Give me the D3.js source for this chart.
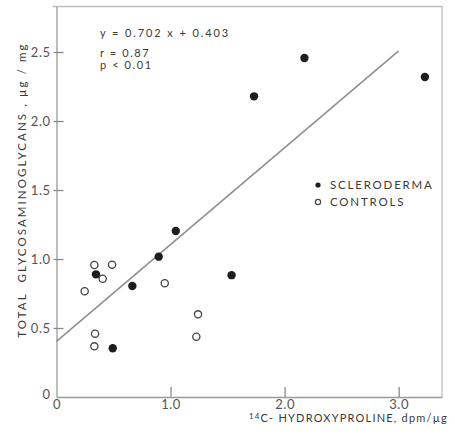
<!DOCTYPE html>
<html><head><meta charset="utf-8">
<script src="https://cdn.jsdelivr.net/npm/d3@7"></script>
<style>
html,body{margin:0;padding:0;background:#fff;}
svg{display:block;font-family:"Lato","DejaVu Sans",sans-serif;}
</style></head>
<body><svg id="c" width="455" height="434"></svg>
<script>
// Data
const sclerodermaX = [0.346, 0.665, 0.896, 1.046, 0.493, 1.535, 1.732, 2.174, 3.23];
const sclerodermaY = [0.889, 0.804, 1.017, 1.203, 0.353, 0.883, 2.179, 2.457, 2.319];
const controlsX = [0.332, 0.487, 0.405, 0.247, 0.949, 1.241, 1.226, 0.338, 0.332];
const controlsY = [0.957, 0.959, 0.857, 0.766, 0.824, 0.599, 0.437, 0.459, 0.367];
const slope = 0.702, intercept = 0.403;
const fitRange = [0, 3.0];
const xTicks = [0, 1, 2, 3];
const yTicks = [0, 0.5, 1.0, 1.5, 2.0, 2.5];
const statLines = ["y = 0.702 x + 0.403", "r = 0.87", "p < 0.01"];
const legendLabels = ["SCLERODERMA", "CONTROLS"];

const svg = d3.select("#c");
const x = d3.scaleLinear().domain([0, 3.38]).range([56.5, 442]);
const y = d3.scaleLinear().domain([0, 2.83]).range([397, 6.5]);
const ink = "#3a3a3a";

// frame (top & right)
svg.append("path")
  .attr("d", `M${x(0)-4},${y(2.83)}H${x(3.38)}V${y(0)}`)
  .attr("fill", "none").attr("stroke", "#bdbdbd").attr("stroke-width", 1.3);

// x axis
const xa = svg.append("g").attr("transform", `translate(0,${y(0)})`)
  .call(d3.axisBottom(x).tickValues(xTicks).tickSizeInner(-10).tickSizeOuter(0).tickPadding(3)
    .tickFormat(d => d === 0 ? "0" : d3.format(".1f")(d)));
// y axis
const ya = svg.append("g").attr("transform", `translate(${x(0)},0)`)
  .call(d3.axisLeft(y).tickValues(yTicks).tickSizeInner(-7).tickSizeOuter(0).tickPadding(6)
    .tickFormat(d => d === 0 ? "0" : d3.format(".1f")(d)));
[xa, ya].forEach(g => {
  g.select(".domain").attr("stroke", "#9a9a9a").attr("stroke-width", 1.3);
  g.selectAll(".tick line").attr("stroke", "#8a8a8a").attr("stroke-width", 1.3);
  g.selectAll(".tick text").attr("fill", "#555").style("font-size", "13px")
    .style("letter-spacing", "0.5px")
    .style("font-family", "Lato, 'DejaVu Sans', sans-serif");
});
ya.selectAll(".tick line").attr("x1", -3);
ya.selectAll(".tick").filter(d => d === 0).select("line").remove();
ya.selectAll(".tick").filter(d => d === 0).select("text").attr("dy", "0.1em");
xa.selectAll(".tick").filter(d => d === 0).select("line").remove();

// regression line
svg.append("line")
  .attr("x1", x(fitRange[0])).attr("y1", y(slope*fitRange[0]+intercept))
  .attr("x2", x(fitRange[1])).attr("y2", y(slope*fitRange[1]+intercept))
  .attr("stroke", "#8f8f8f").attr("stroke-width", 1.6);

// points
svg.append("g").selectAll("circle").data(controlsX.map((v,i)=>[v,controlsY[i]])).join("circle")
  .attr("cx", d => x(d[0])).attr("cy", d => y(d[1])).attr("r", 3.6)
  .attr("fill", "#fff").attr("stroke", "#444").attr("stroke-width", 1.3);
svg.append("g").selectAll("circle").data(sclerodermaX.map((v,i)=>[v,sclerodermaY[i]])).join("circle")
  .attr("cx", d => x(d[0])).attr("cy", d => y(d[1])).attr("r", 4.2)
  .attr("fill", "#1e1e1e");

// stats text
svg.append("g").selectAll("text").data(statLines).join("text")
  .attr("x", 100).attr("y", (d,i) => [33, 53, 65][i]).attr("dy", "0.35em")
  .attr("fill", ink).style("font-size", "11px").style("letter-spacing", (d,i) => i === 0 ? "1.9px" : "1.6px")
  .text(d => d);

// legend
const leg = svg.append("g");
leg.append("circle").attr("cx", 318).attr("cy", 185).attr("r", 2.6).attr("fill", "#1e1e1e");
leg.append("circle").attr("cx", 318).attr("cy", 202).attr("r", 2.6).attr("fill", "#fff")
  .attr("stroke", "#444").attr("stroke-width", 1.2);
leg.selectAll("text").data(legendLabels).join("text")
  .attr("x", 330).attr("y", (d,i) => 185 + i*17).attr("dy", "0.35em")
  .attr("fill", ink).style("font-size", "11.5px").style("letter-spacing", "1.8px")
  .text(d => d);

// axis titles
svg.append("text").attr("x", 448).attr("y", 422).attr("dy", "0.35em").attr("text-anchor", "end")
  .attr("fill", ink).style("font-size", "11px").style("letter-spacing", "1.2px")
  .html('<tspan font-size="8px" dy="-3">14</tspan><tspan dy="3">C- HYDROXYPROLINE, dpm/µg</tspan>');
svg.append("text").attr("transform", "translate(22,190) rotate(-90)").attr("text-anchor", "middle")
  .attr("dy", "0.35em").attr("fill", ink).style("font-size", "11.5px").style("letter-spacing", "2.1px")
  .attr("xml:space", "preserve")
  .text("TOTAL  GLYCOSAMINOGLYCANS , µg / mg");
</script></body></html>
